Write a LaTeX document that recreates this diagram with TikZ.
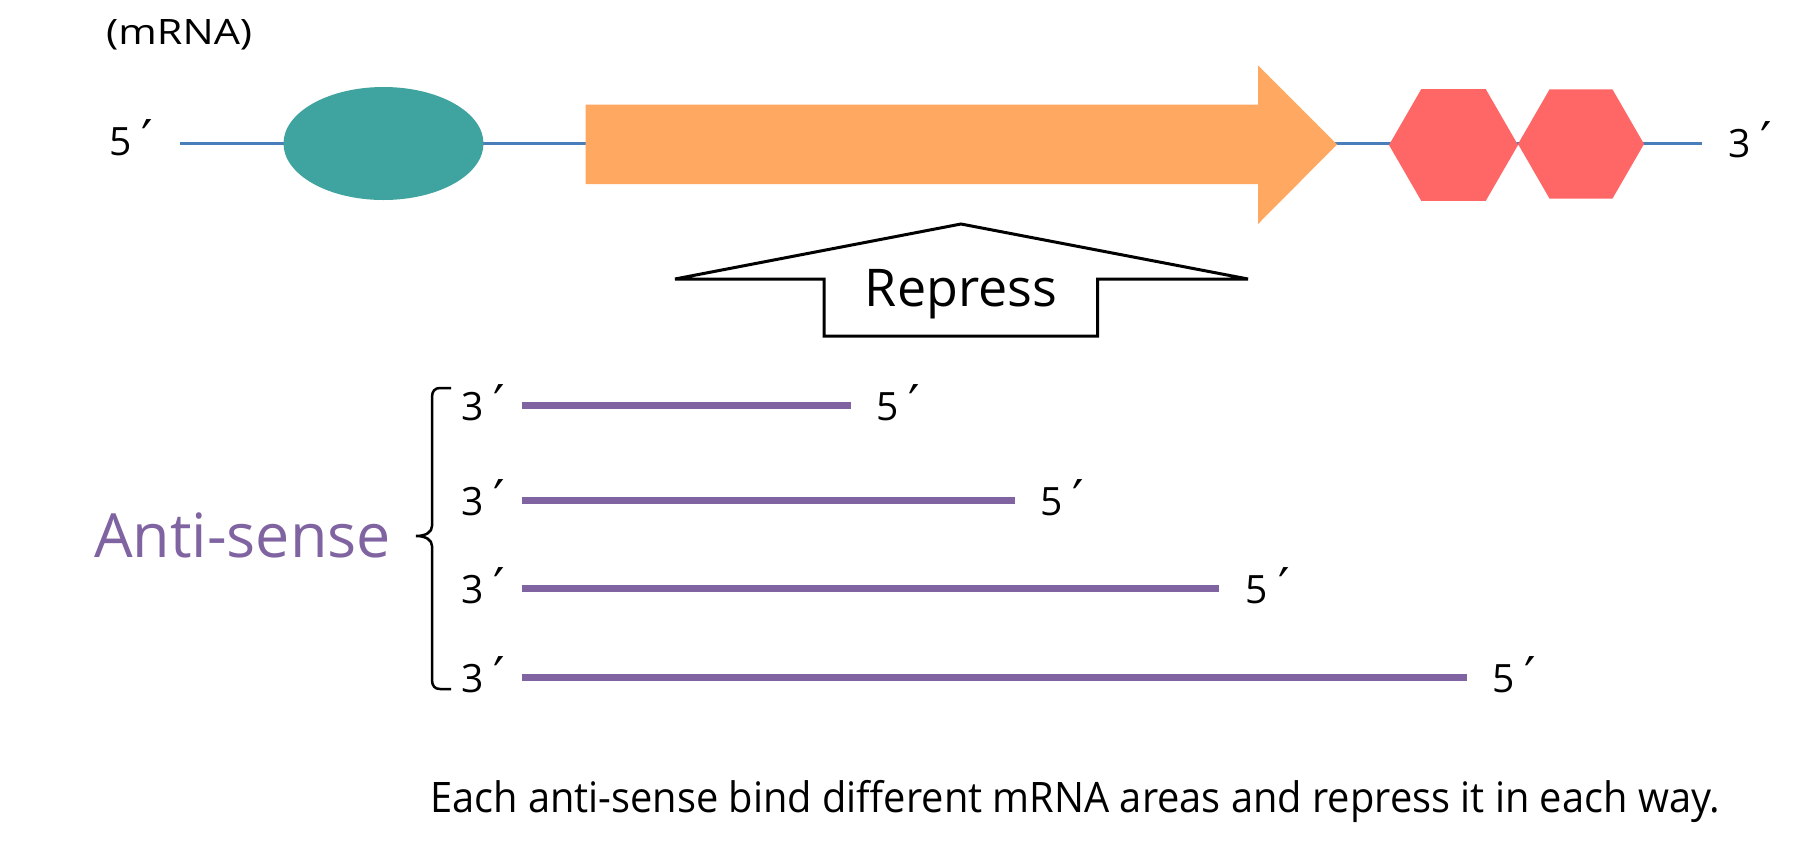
\documentclass[tikz,border=0pt]{standalone}
\usepackage{fontspec}
\setmainfont{Open Sans}
\newfontfamily\dvfont{DejaVu Sans}
\usetikzlibrary{shapes.geometric}
\definecolor{mblue}{HTML}{4A7EBB}
\definecolor{mteal}{HTML}{3FA39F}
\definecolor{morange}{HTML}{FFA862}
\definecolor{mred}{HTML}{FF6666}
\definecolor{mpurple}{HTML}{8064A2}
\newcommand\myprime{\raisebox{-1pt}{\scalebox{1.3}{\dvfont\char"2032}}}
\tikzset{
  lbl/.style={inner sep=0pt, anchor=base west, font=\fontsize{39}{44}\selectfont},
  asline/.style={draw=mpurple, line width=7pt},
  hexa/.style={regular polygon, regular polygon sides=6, minimum size=128pt, inner sep=0pt, fill=mred},
}
\begin{document}
\begin{tikzpicture}[x=1pt,y=-1pt]
\useasboundingbox[fill=white] (0,0) rectangle (1799,844);
% mRNA backbone
\coordinate (m5) at (180,143.5);
\coordinate (m3) at (1702,143.5);
\draw[mblue, line width=3.5pt] (m5) -- (m3);
\node[lbl, anchor=base west] (mrna) at (106,44) {\resizebox{146pt}{\height}{\fontsize{35}{40}\selectfont (mRNA)}};
\node[lbl] (l5) at (109,155) {5 \myprime};
\node[lbl] (r3) at (1728,157) {3 \myprime};
% cap
\node[ellipse, fill=mteal, minimum width=200pt, minimum height=113pt, inner sep=0pt] (cap) at (383.5,143.5) {};
% coding arrow
\fill[morange] (585.5,104.5) -- (1258,104.5) -- (1258,65.5) -- (1337,144.5) -- (1258,224) -- (1258,184) -- (585.5,184) -- cycle;
% hexagons
\node[hexa, minimum size=129pt] (h1) at (1453.5,145) {};
\node[hexa, minimum size=126pt] (h2) at (1581,144) {};
% repress arrow
\draw[line width=3pt, fill=white] (824,336) -- (824,279) -- (675,279) -- (961,224) -- (1248,279) -- (1097.5,279) -- (1097.5,336) -- cycle;
\node[inner sep=0pt, anchor=base, font=\fontsize{52}{58}\selectfont] (rep) at (961,306) {Repress};
% anti-sense
\node[inner sep=0pt, anchor=base west, text=mpurple, font=\fontsize{61}{68}\selectfont] (as) at (94,557.5) {Anti-sense};
\draw[line width=2.5pt] (451,388) -- (440,388) .. controls (435,388) and (432,391) .. (432,397) -- (432,526) .. controls (432,532) and (426,536) .. (416,536) .. controls (426,536) and (432,540) .. (432,546) -- (432,680) .. controls (432,686) and (435,689) .. (440,689) -- (451,689);
\foreach \i/\y/\e/\t in {1/405/851/876, 2/500.5/1015/1040, 3/588/1219/1245.5, 4/677/1467/1492}{
  \node[lbl] (a3\i) at (461,\y+15) {3 \myprime};
  \coordinate (s\i) at (522,\y);
  \coordinate (e\i) at (\e,\y);
  \draw[asline] (s\i) -- (e\i);
  \node[lbl] (a5\i) at (\t,\y+15) {5 \myprime};
}
\node[inner sep=0pt, anchor=base west] (note) at (430,812) {\resizebox{1290pt}{\height}{\fontsize{42}{48}\selectfont Each anti-sense bind different mRNA areas and repress it in each way.}};
\end{tikzpicture}
\end{document}
